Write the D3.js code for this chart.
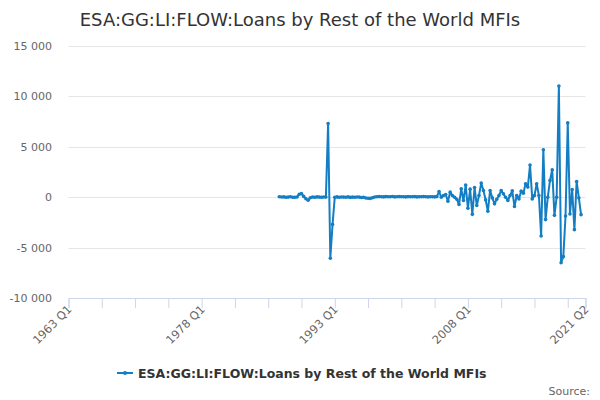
<!DOCTYPE html>
<html>
<head>
<meta charset="utf-8">
<script src="https://cdn.jsdelivr.net/npm/d3@7/dist/d3.min.js"></script>
<style>
  html, body { margin: 0; padding: 0; background: #fff; }
  svg { display: block; font-family: "DejaVu Sans", sans-serif; }
</style>
</head>
<body>
<svg id="chart" width="600" height="400"></svg>
<script>
// ---- Data ----
const title = "ESA:GG:LI:FLOW:Loans by Rest of the World MFIs";
const seriesName = "ESA:GG:LI:FLOW:Loans by Rest of the World MFIs";
const firstYear = 1963;          // categories start at 1963 Q1
const lastCategory = "2021 Q2";  // categories end at 2021 Q2
const dataStartCategory = "1986 Q4";
const yTicks = [-10000, -5000, 0, 5000, 10000, 15000];
const xTickLabels = ["1963 Q1", "1978 Q1", "1993 Q1", "2008 Q1", "2021 Q2"];
const xTickEvery = 15; // quarters between tick marks

// values from 1986 Q4 onwards (quarterly)
const values1986to1992 = [50, 20, 30, 0, 10, 40, 0, -10, 20, 300, 350, 80, -150, -300, -50, 20, 0, 30, 10, 0, 20, 10];
const values1992to1993 = [7300, -6050, -2700, 0];
const values1993to2004 = [30, 0, 20, 10, 0, 30, -20, 10, 0, 20, 10, -30, 0, -80, -100, -120, -60, 20, 40, 60,
  50, 30, 60, 40, 50, 70, 30, 50, 60, 40, 50, 30, 60, 50, 40, 60, 30, 50, 40, 60, 50, 30, 40, 50, 30, 60];
const values2004to2020 = [560, 0, 170, 270, -400, 500, 170, 0, -200, -730, 830, -330, 1200, -1100, 800, -1700,
  960, -830, 170, 1400, 660, -270, -1400, 660, -70, -660, -200, 170, 660, 330, 0, -330, 170, 630, -930, 170,
  -170, 600, 400, 1330, 1000, 3190, -170, 170, 1330, 170, -3850, 4700, -2220, 0, 1660, 2720, -1800, 0, 11020,
  -6500, -5900, -1860, 7370, -1660, 760, -3220, 1560, -70, -1730];

// ---- Build categories ----
const categories = [];
for (let yr = firstYear; ; yr++) {
  let done = false;
  for (let q = 1; q <= 4; q++) {
    const c = yr + " Q" + q;
    categories.push(c);
    if (c === lastCategory) { done = true; break; }
  }
  if (done) break;
}
const allValues = [].concat(values1986to1992, values1992to1993, values1993to2004, values2004to2020);
const startIdx = categories.indexOf(dataStartCategory);
const data = allValues.map((v, k) => ({ i: startIdx + k, v: v }));

// ---- Drawing ----
const svg = d3.select("#chart");
const plotLeft = 68.5, plotRight = 585.5, plotTop = 46, plotBottom = 298;
const x = d3.scaleLinear().domain([0, categories.length - 1]).range([plotLeft, plotRight]);
const y = d3.scaleLinear().domain([-10000, 15000]).range([plotBottom, plotTop]);
const color = "#137ec3";
const fmt = v => d3.format(",")(v).replace(/,/g, " ").replace("−", "-");

// title
svg.append("text").attr("x", 300).attr("y", 26).attr("text-anchor", "middle")
  .attr("font-size", 18).attr("fill", "#333").text(title);

// gridlines
svg.append("g").selectAll("line").data(yTicks.filter(t => t !== -10000)).join("line")
  .attr("x1", plotLeft).attr("x2", plotRight)
  .attr("y1", d => Math.round(y(d)) + 0.5).attr("y2", d => Math.round(y(d)) + 0.5)
  .attr("stroke", "#e6e6e6").attr("stroke-width", 1);

// y labels
svg.append("g").selectAll("text").data(yTicks).join("text")
  .attr("x", 52).attr("y", d => y(d) + 4).attr("text-anchor", "end")
  .attr("font-size", 11).attr("fill", "#666").text(d => fmt(d));

// x axis
const xAxisG = svg.append("g").attr("transform", `translate(0,${plotBottom})`);
const tickIdx = [];
for (let i = 0; i < categories.length; i += xTickEvery) tickIdx.push(i);
tickIdx.push(categories.length - 1);
xAxisG.call(d3.axisBottom(x).tickValues(tickIdx).tickSize(10).tickFormat(""));
xAxisG.select(".domain").attr("stroke", "#ccd6eb");
xAxisG.selectAll(".tick line").attr("stroke", "#ccd6eb");

svg.append("g").selectAll("text").data(xTickLabels).join("text")
  .attr("transform", d => `translate(${x(categories.indexOf(d)) + 4},${plotBottom + 12}) rotate(-45)`)
  .attr("text-anchor", "end").attr("font-size", 11.5).attr("fill", "#666").text(d => d);

// line
const line = d3.line().x(d => x(d.i)).y(d => y(d.v));
svg.append("path").datum(data).attr("d", line)
  .attr("fill", "none").attr("stroke", color).attr("stroke-width", 2).attr("stroke-linejoin", "round");
svg.append("g").selectAll("circle").data(data).join("circle")
  .attr("cx", d => x(d.i)).attr("cy", d => y(d.v)).attr("r", 1.8).attr("fill", color);

// legend
const lg = svg.append("g");
lg.append("line").attr("x1", 117).attr("x2", 133).attr("y1", 373).attr("y2", 373)
  .attr("stroke", color).attr("stroke-width", 2);
lg.append("circle").attr("cx", 125).attr("cy", 373).attr("r", 2).attr("fill", color);
lg.append("text").attr("x", 138).attr("y", 377.5).attr("font-size", 12.5).attr("font-weight", "bold")
  .attr("fill", "#333").text(seriesName);

// source
svg.append("text").attr("x", 590).attr("y", 395).attr("text-anchor", "end")
  .attr("font-size", 11).attr("fill", "#666").text("Source:");
</script>
</body>
</html>
